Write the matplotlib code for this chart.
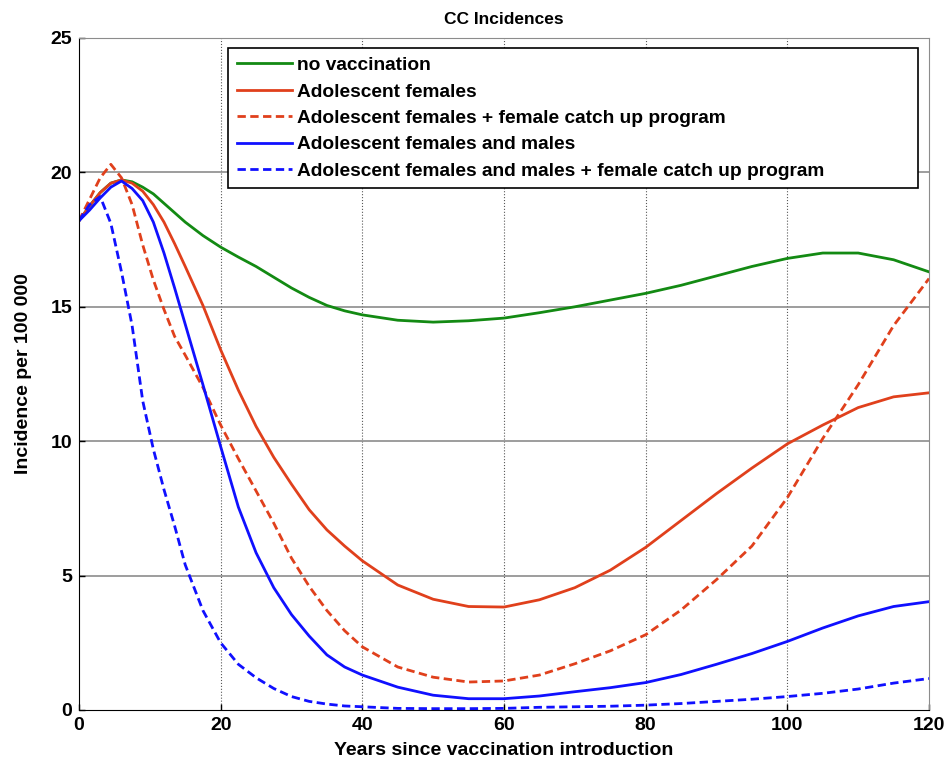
import matplotlib
matplotlib.use("Agg")
import matplotlib.pyplot as plt

years = [0, 1.5, 3, 4.5, 6, 7.5, 9, 10.5, 12, 13.5, 15, 17.5, 20, 22.5, 25,
         27.5, 30, 32.5, 35, 37.5, 40, 45, 50, 55, 60, 65, 70, 75, 80, 85,
         90, 95, 100, 105, 110, 115, 120]

no_vacc = [18.2, 18.75, 19.25, 19.6, 19.72, 19.65, 19.45, 19.2, 18.85, 18.5,
           18.15, 17.65, 17.22, 16.85, 16.5, 16.1, 15.7, 15.35, 15.05, 14.85,
           14.7, 14.5, 14.43, 14.48, 14.58, 14.78, 15.0, 15.25, 15.5, 15.8,
           16.15, 16.5, 16.8, 17.0, 17.0, 16.75, 16.3]

adol_f = [18.2, 18.75, 19.25, 19.6, 19.72, 19.6, 19.3, 18.8, 18.15, 17.35,
          16.5, 15.05, 13.4, 11.9, 10.55, 9.4, 8.4, 7.45, 6.7, 6.1,
          5.55, 4.65, 4.12, 3.85, 3.83, 4.1, 4.55, 5.2, 6.05, 7.05,
          8.05, 9.0, 9.9, 10.6, 11.25, 11.65, 11.8]

adol_f_catch = [18.2, 19.0, 19.8, 20.3, 19.8, 18.8, 17.3, 16.0, 14.9, 13.9,
                13.2, 12.0, 10.6, 9.35, 8.15, 6.95, 5.65, 4.6, 3.7, 2.95,
                2.35, 1.6, 1.22, 1.04, 1.08, 1.3, 1.72, 2.2, 2.8, 3.72,
                4.85, 6.1, 7.9, 10.1, 12.1, 14.3, 16.05]

adol_fm = [18.2, 18.6, 19.05, 19.45, 19.68, 19.4, 18.95, 18.15, 17.0, 15.7,
           14.35, 12.1, 9.8, 7.55, 5.85, 4.55, 3.55, 2.75, 2.05, 1.6,
           1.3, 0.85, 0.55, 0.42, 0.42, 0.52, 0.68, 0.83, 1.02, 1.32,
           1.7, 2.1, 2.55, 3.05, 3.5, 3.85, 4.03]

adol_fm_catch = [18.2, 18.8, 19.1, 18.1, 16.3, 14.3, 11.5, 9.7, 8.2, 6.85,
                 5.4, 3.7, 2.5, 1.7, 1.2, 0.8, 0.5, 0.32, 0.22, 0.15,
                 0.12, 0.06, 0.05, 0.05, 0.06, 0.1, 0.12, 0.14, 0.18, 0.24,
                 0.32, 0.4, 0.5, 0.62, 0.78, 1.0, 1.17]

labels = ["no vaccination",
          "Adolescent females",
          "Adolescent females + female catch up program",
          "Adolescent females and males",
          "Adolescent females and males + female catch up program"]

xticks = [0, 20, 40, 60, 80, 100, 120]
yticks = [0, 5, 10, 15, 20, 25]

green = "#138a13"
red = "#e0401c"
blue = "#1010ff"
sans = ["Liberation Sans", "DejaVu Sans"]

fig = plt.figure(figsize=(9.47, 7.6), dpi=100)
ax = fig.add_axes([0.0834, 0.0658, 0.8976, 0.8842])

lw = 2.0
dash = (3.0, 1.6)
ax.plot(years, no_vacc, color=green, lw=lw, label=labels[0])
ax.plot(years, adol_f, color=red, lw=lw, label=labels[1])
ax.plot(years, adol_f_catch, color=red, lw=lw, ls=(0, dash), label=labels[2])
ax.plot(years, adol_fm, color=blue, lw=lw, label=labels[3])
ax.plot(years, adol_fm_catch, color=blue, lw=lw, ls=(0, dash), label=labels[4])

ax.set_xlim(0, 120)
ax.set_ylim(0, 25)
ax.set_xticks(xticks)
ax.set_yticks(yticks)

# grid: dotted verticals, solid grey horizontals
for xv in xticks[1:-1]:
    ax.axvline(xv, color="0.35", lw=0.8, ls=":", zorder=0)
for yv in yticks[1:-1]:
    ax.axhline(yv, color="0.55", lw=1.2, zorder=0)

ax.tick_params(direction="in", length=4, width=1, pad=5)
for lab in ax.get_xticklabels() + ax.get_yticklabels():
    lab.set_family(sans)
    lab.set_fontweight("bold")
    lab.set_fontsize(14)

ax.spines["left"].set_color("black")
ax.spines["bottom"].set_color("black")
ax.spines["top"].set_color("0.55")
ax.spines["right"].set_color("0.55")

ax.set_title("CC Incidences", family=sans, fontweight="bold",
             fontsize=12.5, pad=10)
ax.set_xlabel("Years since vaccination introduction", family=sans,
              fontweight="bold", fontsize=14, labelpad=6)
ax.set_ylabel("Incidence per 100 000", family=sans,
              fontweight="bold", fontsize=14, labelpad=13)

leg = ax.legend(loc="upper left", bbox_to_anchor=(0.1753, 0.985, 0.8117, 0.0),
                mode="expand", borderaxespad=0, frameon=True, fancybox=False,
                framealpha=1, edgecolor="black", handlelength=2.9,
                handletextpad=0.26, labelspacing=0.47, borderpad=0.45,
                prop={"family": sans, "weight": "bold", "size": 13.8})
leg.get_frame().set_linewidth(1.2)

fig.savefig("out.png", dpi=100)
